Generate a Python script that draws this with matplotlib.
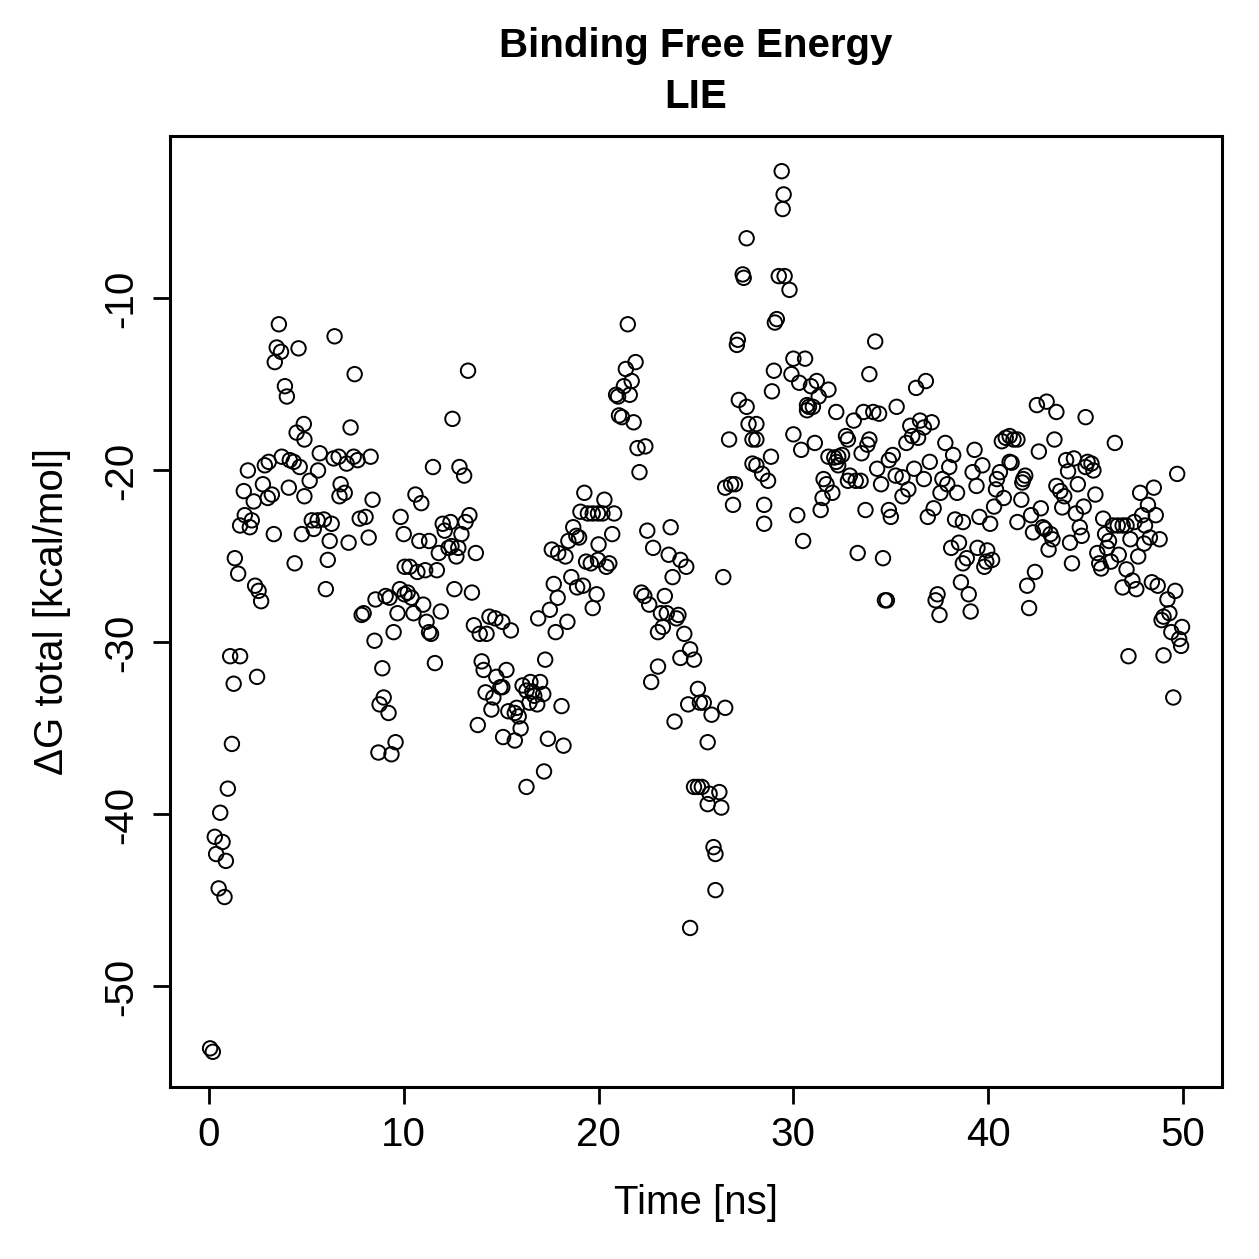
import matplotlib
matplotlib.use('Agg')
import matplotlib.pyplot as plt

plt.rcParams['font.family'] = ['Liberation Sans', 'DejaVu Sans']
plt.rcParams['axes.unicode_minus'] = False

# time [ns] and dG total [kcal/mol]
time_ns = [
    # 0 - 5 ns
    3.59, 3.48, 3.7, 4.6, 3.38, 3.9, 4.0, 4.87, 4.5, 4.9, 3.74, 4.15, 4.35, 4.66, 3.07, 2.87, 2.0, 2.77, 1.79, 4.1,
    3.23, 3.02, 2.3, 4.9, 1.84, 2.2, 1.6, 2.1, 3.33, 4.77, 1.33, 1.5, 4.4, 2.37, 2.55, 2.68, 1.09, 1.6, 1.27, 2.47,
    1.18, 0.97, 0.58, 0.3, 0.7, 0.37, 0.87, 0.5, 0.8, 0.06, 0.2,
    # 5 - 10 ns
    6.45, 7.48, 7.27, 5.69, 6.4, 6.66, 7.07, 7.43, 7.63, 8.3, 5.6, 5.17, 6.76, 6.7, 6.97, 8.4, 5.28, 5.58, 5.9, 6.3,
    5.38, 7.74, 8.04, 6.2, 7.17, 8.2, 9.84, 10.0, 6.1, 6.0, 10.05, 8.55, 9.07, 9.27, 9.8, 10.04, 7.94, 7.84, 9.68, 9.48,
    8.5, 8.9, 8.97, 8.76, 9.22, 9.58, 8.7, 9.37,
    # 10 - 15 ns
    13.3, 12.5, 11.5, 12.86, 13.1, 10.6, 10.9, 12.0, 12.4, 13.37, 13.17, 12.1, 12.96, 10.8, 11.3, 11.8, 12.3, 12.45, 12.8, 12.7,
    13.7, 10.3, 10.7, 11.1, 11.7, 10.2, 10.4, 12.6, 13.5, 10.5, 11.0, 11.9, 11.17, 11.4, 11.3, 14.4, 14.7, 15.06, 13.6, 13.9,
    14.25, 11.6, 14.0, 14.1, 14.75, 14.96, 14.2, 14.6, 14.5, 13.8, 15.1,
    # 15 - 20 ns
    19.27, 19.07, 19.45, 19.7, 19.97, 18.7, 18.86, 19.0, 18.45, 17.6, 17.93, 18.3, 20.0, 19.36, 19.6, 19.97, 18.6, 18.9, 19.2, 17.7,
    19.9, 17.9, 19.7, 17.5, 16.9, 18.4, 17.8, 15.5, 17.26, 15.27, 15.06, 16.1, 16.5, 17.0, 16.3, 16.6, 16.7, 17.16, 16.45, 16.85,
    18.1, 15.37, 15.7, 15.9, 15.8, 16.0, 15.7, 17.4, 18.2, 17.2, 16.3,
    # 20 - 25 ns
    21.5, 21.9, 21.4, 21.7, 21.3, 20.9, 21.0, 21.6, 21.05, 21.2, 21.8, 22.0, 22.4, 22.1, 20.3, 20.2, 20.8, 22.5, 23.7, 20.7,
    22.8, 23.6, 24.2, 24.5, 23.8, 20.4, 20.55, 22.2, 22.35, 23.4, 22.6, 23.2, 23.5, 24.1, 24.0, 23.3, 23.05, 24.4, 24.2, 24.7,
    24.9, 23.05, 22.7, 25.1, 24.6, 25.2, 23.9, 24.7,
    # 25 - 30 ns
    29.4, 29.5, 29.45, 27.6, 27.4, 27.45, 29.25, 29.55, 29.8, 29.15, 29.05, 27.15, 27.1, 30.0, 29.0, 29.9, 28.9, 27.2, 27.6, 27.7,
    28.1, 26.7, 27.9, 28.1, 30.0, 27.9, 28.1, 28.85, 28.4, 28.7, 26.5, 26.8, 27.0, 26.9, 28.5, 28.5, 26.4, 25.4, 25.8, 26.5,
    25.6, 24.9, 25.1, 25.3, 25.7, 26.2, 26.3, 25.6, 25.9, 26.0, 26.0,
    # 30 - 35 ns
    30.6, 33.9, 30.3, 31.2, 30.9, 31.8, 31.3, 30.7, 30.8, 31.0, 30.7, 32.2, 33.1, 33.6, 34.1, 34.4, 35.3, 30.4, 31.1, 32.7,
    32.8, 33.9, 33.8, 33.5, 31.8, 32.1, 32.3, 32.5, 32.2, 32.3, 35.1, 34.9, 34.3, 31.55, 31.7, 32.9, 32.8, 33.2, 33.45, 34.5,
    35.25, 32.0, 31.5, 31.4, 33.7, 34.9, 35.0, 30.2, 30.5, 33.3, 34.6, 34.7, 34.8, 34.2,
    # 35 - 40 ns
    36.8, 36.3, 36.0, 36.5, 37.1, 36.7, 36.4, 36.1, 35.8, 37.8, 38.2, 39.3, 37.0, 36.2, 38.0, 39.7, 39.2, 35.6, 36.7, 37.65,
    37.9, 39.4, 35.9, 37.55, 38.4, 35.6, 37.2, 36.9, 38.3, 38.7, 39.55, 38.5, 38.1, 39.45, 38.9, 38.7, 39.9, 39.8, 38.6, 39.0,
    37.4, 37.3, 37.5, 39.1,
    # 40 - 45 ns
    42.5, 43.0, 43.5, 45.0, 40.7, 40.9, 41.1, 41.3, 41.5, 43.4, 42.6, 41.1, 41.2, 44.0, 44.4, 45.1, 40.6, 44.1, 45.0, 40.45,
    41.8, 41.9, 41.75, 44.6, 43.5, 40.4, 43.7, 43.9, 40.8, 41.7, 42.7, 40.3, 43.8, 44.9, 42.2, 44.5, 40.1, 41.5, 42.3, 42.8,
    42.9, 43.2, 43.3, 44.7, 44.8, 44.2, 43.1, 39.95, 40.2, 44.3, 42.4, 42.0, 42.1,
    # 45 - 50 ns
    46.5, 45.3, 45.4, 49.7, 45.5, 48.5, 47.8, 48.2, 45.9, 47.9, 48.6, 47.5, 46.4, 46.65, 46.9, 47.1, 48.05, 46.0, 47.3, 48.3,
    48.8, 48.0, 46.2, 46.1, 45.6, 46.7, 47.7, 46.3, 45.7, 45.8, 47.1, 47.4, 46.9, 47.6, 48.4, 48.7, 49.6, 49.2, 49.3, 49.0,
    48.9, 49.95, 49.4, 49.8, 49.9, 47.2, 49.0, 49.5,
]

dg_total = [
    # 0 - 5 ns
    -11.5, -12.85, -13.1, -12.9, -13.7, -15.1, -15.7, -17.3, -17.8, -18.2, -19.2, -19.4, -19.5, -19.8, -19.5, -19.7, -20.0, -20.8, -21.2, -21.0,
    -21.4, -21.6, -21.8, -21.5, -22.6, -22.9, -23.2, -23.3, -23.7, -23.7, -25.1, -26.0, -25.4, -26.7, -27.0, -27.6, -30.8, -30.8, -32.4, -32.0,
    -35.9, -38.5, -39.9, -41.3, -41.6, -42.3, -42.7, -44.3, -44.8, -53.6, -53.8,
    # 5 - 10 ns
    -12.2, -14.4, -17.5, -19.0, -19.3, -19.2, -19.6, -19.2, -19.4, -19.2, -20.0, -20.6, -20.8, -21.5, -21.3, -21.7, -22.9, -22.9, -22.85, -23.1,
    -23.4, -22.8, -22.7, -24.1, -24.2, -23.9, -22.7, -23.7, -25.2, -26.9, -25.6, -27.5, -27.3, -27.4, -26.9, -27.2, -28.3, -28.4, -28.3, -29.4,
    -29.9, -31.5, -33.2, -33.6, -34.1, -35.8, -36.4, -36.5,
    # 10 - 15 ns
    -14.2, -17.0, -19.8, -19.8, -20.3, -21.4, -21.9, -23.1, -23.0, -22.6, -23.0, -23.5, -23.7, -24.1, -24.1, -24.8, -24.5, -24.4, -24.5, -25.0,
    -24.8, -25.6, -25.9, -25.8, -25.8, -27.1, -27.4, -26.9, -27.1, -28.3, -27.8, -28.2, -28.8, -29.5, -29.4, -28.5, -28.6, -28.8, -29.0, -29.5,
    -29.5, -31.2, -31.1, -31.6, -32.0, -32.6, -32.9, -33.2, -33.9, -34.8, -35.5,
    # 15 - 20 ns
    -21.3, -22.4, -22.5, -22.5, -22.5, -23.3, -23.8, -23.9, -24.1, -24.6, -24.8, -25.0, -24.3, -25.3, -25.4, -25.2, -26.2, -26.8, -26.7, -26.6,
    -27.2, -27.4, -28.0, -28.1, -28.6, -28.8, -29.4, -29.3, -31.0, -31.6, -32.6, -32.5, -32.3, -32.3, -32.8, -32.85, -33.1, -33.0, -33.5, -33.6,
    -33.7, -34.0, -34.1, -34.3, -33.8, -35.0, -35.7, -35.6, -36.0, -37.5, -38.4,
    # 20 - 25 ns
    -11.5, -13.7, -14.1, -14.8, -15.1, -15.6, -15.7, -15.6, -16.8, -16.9, -17.2, -18.7, -18.6, -20.1, -21.7, -22.5, -22.5, -23.5, -23.3, -23.7,
    -24.5, -24.9, -25.2, -25.6, -26.2, -25.6, -25.4, -27.1, -27.3, -27.3, -27.8, -28.3, -28.3, -28.4, -28.6, -29.1, -29.4, -29.5, -30.9, -30.4,
    -31.0, -31.4, -32.3, -32.7, -33.6, -33.5, -34.6, -46.6,
    # 25 - 30 ns
    -2.6, -3.95, -4.8, -6.5, -8.6, -8.8, -8.7, -8.7, -9.5, -11.2, -11.4, -12.4, -12.7, -13.5, -14.2, -14.4, -15.4, -15.9, -16.3, -17.3,
    -17.3, -18.2, -18.2, -18.2, -17.9, -19.6, -19.7, -19.2, -20.2, -20.6, -21.0, -20.8, -20.8, -22.0, -22.0, -23.1, -26.2, -33.5, -34.2, -33.8,
    -35.8, -38.4, -38.4, -38.4, -38.8, -38.7, -39.6, -39.4, -41.9, -42.3, -44.4,
    # 30 - 35 ns
    -13.5, -14.4, -14.9, -14.8, -15.1, -15.3, -15.7, -16.2, -16.3, -16.3, -16.5, -16.6, -17.1, -16.6, -16.6, -16.7, -16.3, -18.8, -18.4, -18.0,
    -18.2, -18.2, -18.5, -19.0, -19.2, -19.25, -19.2, -19.1, -19.5, -19.7, -19.1, -19.4, -19.9, -20.5, -20.8, -20.3, -20.6, -20.6, -20.6, -20.8,
    -20.3, -21.3, -21.6, -22.3, -22.3, -22.3, -22.7, -22.6, -24.1, -24.8, -25.1, -27.55, -27.55, -12.5,
    # 35 - 40 ns
    -14.8, -15.2, -17.4, -17.1, -17.2, -17.5, -18.1, -18.0, -18.4, -18.4, -19.1, -18.8, -19.5, -19.9, -19.8, -19.7, -20.1, -20.4, -20.5, -20.5,
    -20.8, -20.9, -21.1, -21.3, -21.3, -21.5, -22.2, -22.7, -22.85, -23.0, -22.7, -24.2, -24.5, -24.5, -25.1, -25.4, -25.3, -25.6, -26.5, -27.2,
    -27.2, -27.55, -28.4, -28.2,
    # 40 - 45 ns
    -16.2, -16.0, -16.6, -16.9, -18.3, -18.1, -18.0, -18.2, -18.2, -18.2, -18.9, -19.5, -19.55, -19.4, -19.3, -19.5, -20.1, -20.05, -19.8, -20.5,
    -20.5, -20.3, -20.7, -20.8, -20.9, -21.1, -21.2, -21.5, -21.6, -21.7, -22.2, -22.1, -22.15, -22.1, -22.6, -22.5, -23.1, -23.0, -23.6, -23.3,
    -23.4, -23.7, -24.0, -23.3, -23.8, -24.2, -24.6, -24.65, -25.2, -25.4, -25.9, -26.7, -28.0,
    # 45 - 50 ns
    -18.4, -19.6, -20.0, -20.2, -21.4, -21.0, -21.3, -22.0, -22.8, -22.6, -22.6, -23.0, -23.2, -23.2, -23.2, -23.2, -23.2, -23.7, -24.0, -23.9,
    -24.0, -24.25, -24.1, -24.5, -24.8, -24.9, -25.0, -25.3, -25.4, -25.7, -25.75, -26.4, -26.8, -26.9, -26.5, -26.7, -27.0, -27.5, -28.3, -28.5,
    -28.7, -29.1, -29.4, -29.8, -30.2, -30.8, -30.75, -33.2,
]

x_ticks = [0, 10, 20, 30, 40, 50]
y_ticks = [-50, -40, -30, -20, -10]

fig = plt.figure(figsize=(6.295, 6.295), dpi=200)
ax = fig.add_axes([0.135, 0.1366, 0.8356, 0.7554])

ax.scatter(time_ns, dg_total, s=27, facecolors='none', edgecolors='black', linewidths=0.7)

# R style 4% padding around the data
ax.set_xlim(0 - 0.04 * 50, 50 + 0.04 * 50)
yr = max(dg_total) - min(dg_total)
ax.set_ylim(min(dg_total) - 0.04 * yr, max(dg_total) + 0.04 * yr)

ax.set_xticks(x_ticks)
ax.set_xticklabels([str(v) for v in x_ticks])
ax.set_yticks(y_ticks)
ax.set_yticklabels([str(v) for v in y_ticks], rotation=90, va='center')
ax.tick_params(direction='out', length=6.1, width=1.0, labelsize=14.5, pad=4.5)
for s in ax.spines.values():
    s.set_linewidth(1.1)

fig.text(0.5528, 1 - 57 / 1259, 'Binding Free Energy', ha='center', va='baseline',
         fontsize=14.5, fontweight='bold')
fig.text(0.5528, 1 - 108 / 1259, 'LIE', ha='center', va='baseline',
         fontsize=14.5, fontweight='bold')
fig.text(0.5528, 1 - 1214 / 1259, 'Time [ns]', ha='center', va='baseline', fontsize=14.5)
fig.text(52 / 1259, 1 - 611 / 1259, 'ΔG total [kcal/mol]', ha='center', va='center',
         rotation=90, fontsize=14.5)

fig.savefig('out.png', dpi=200)
